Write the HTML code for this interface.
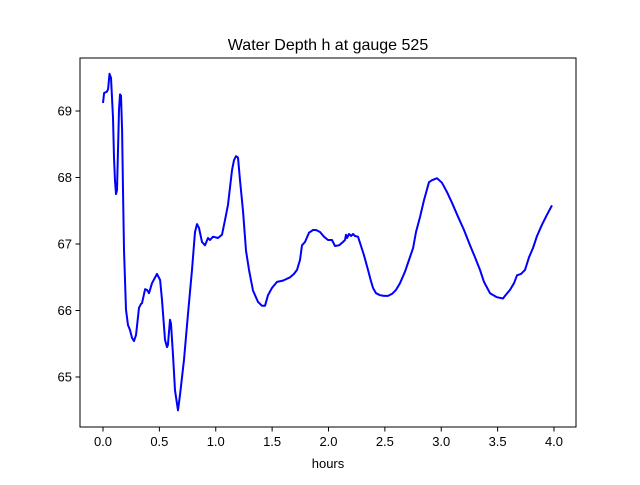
<!DOCTYPE html>
<html><head><meta charset="utf-8"><style>
body{margin:0;background:#fff;}
text{font-family:"Liberation Sans","DejaVu Sans",sans-serif;}
</style></head><body>
<svg id="chart" width="640" height="480" xmlns="http://www.w3.org/2000/svg">
<rect width="640" height="480" fill="#fff"/>
<text x="328" y="50" font-size="16" text-anchor="middle">Water Depth h at gauge 525</text>
<text x="328" y="468" font-size="13" text-anchor="middle">hours</text>
<g id="ticks"></g>
<path id="series" fill="none" stroke="#0000ff" stroke-width="2" stroke-linejoin="round"/>
<rect x="80" y="58" width="496" height="369" fill="none" stroke="#000" stroke-width="1"/>
</svg>
<script>
const hours=[0,0.0,0.01,0.035,0.045,0.058,0.071,0.089,0.098,0.106,0.115,0.124,0.133,0.142,0.151,0.160,0.169,0.177,0.186,0.204,0.222,0.239,0.257,0.275,0.293,0.319,0.337,0.346,0.373,0.390,0.408,0.435,0.479,0.506,0.523,0.550,0.568,0.576,0.594,0.603,0.621,0.639,0.665,0.683,0.718,0.754,0.789,0.816,0.834,0.851,0.878,0.905,0.931,0.949,0.976,1.020,1.055,1.082,1.109,1.126,1.144,1.162,1.180,1.197,1.215,1.242,1.268,1.295,1.330,1.375,1.410,1.437,1.463,1.499,1.543,1.596,1.659,1.694,1.721,1.747,1.765,1.792,1.827,1.863,1.889,1.925,1.960,1.996,2.031,2.058,2.093,2.129,2.146,2.155,2.164,2.182,2.200,2.217,2.235,2.262,2.288,2.315,2.350,2.377,2.395,2.421,2.457,2.492,2.528,2.563,2.599,2.634,2.678,2.714,2.750,2.776,2.812,2.847,2.891,2.918,2.962,3.007,3.051,3.095,3.149,3.202,3.255,3.299,3.344,3.379,3.432,3.494,3.548,3.565,3.610,3.645,3.672,3.707,3.743,3.778,3.814,3.849,3.894,3.938,3.982,4.0];
const depth=[69.12,69.12,69.27,69.29,69.33,69.56,69.50,68.90,68.30,67.95,67.75,67.81,68.41,69.02,69.25,69.23,68.71,67.81,66.91,66.01,65.78,65.71,65.59,65.54,65.63,66.04,66.10,66.11,66.32,66.31,66.26,66.41,66.55,66.46,66.16,65.56,65.45,65.48,65.86,65.80,65.33,64.80,64.50,64.73,65.26,65.95,66.61,67.18,67.30,67.24,67.03,66.98,67.09,67.06,67.11,67.09,67.14,67.36,67.59,67.85,68.11,68.26,68.32,68.30,67.96,67.50,66.90,66.61,66.30,66.13,66.07,66.07,66.23,66.34,66.43,66.45,66.50,66.55,66.61,66.76,66.98,67.03,67.17,67.21,67.21,67.18,67.11,67.06,67.06,66.97,66.98,67.03,67.06,67.14,67.09,67.15,67.12,67.15,67.12,67.11,66.97,66.83,66.61,66.44,66.34,66.26,66.23,66.22,66.22,66.25,66.31,66.41,66.58,66.76,66.94,67.18,67.41,67.66,67.93,67.96,67.99,67.92,67.78,67.62,67.41,67.21,66.98,66.80,66.61,66.43,66.26,66.20,66.18,66.22,66.31,66.41,66.53,66.55,66.61,66.80,66.94,67.12,67.29,67.44,67.58];
const xTicks=[0,0.5,1,1.5,2,2.5,3,3.5,4];
const xTickLabels=["0.0","0.5","1.0","1.5","2.0","2.5","3.0","3.5","4.0"];
const yTicks=[65,66,67,68,69];
const yTickLabels=["65","66","67","68","69"];
const NS="http://www.w3.org/2000/svg";
function X(v){return 103+v*112.75;}
function Y(v){return 111-(v-69)*66.5;}
const g=document.getElementById('ticks');
xTicks.forEach((t,i)=>{
 const l=document.createElementNS(NS,'line');
 l.setAttribute('x1',X(t));l.setAttribute('x2',X(t));l.setAttribute('y1',427);l.setAttribute('y2',431.5);l.setAttribute('stroke','#000');
 
 
 g.appendChild(l);
 const tx=document.createElementNS(NS,'text');
 tx.setAttribute('x',X(t));tx.setAttribute('y',446);tx.setAttribute('font-size','13');tx.setAttribute('text-anchor','middle');
 tx.textContent=xTickLabels[i];
 
 
 g.appendChild(tx);
});
yTicks.forEach((t,i)=>{
 const l=document.createElementNS(NS,'line');
 l.setAttribute('x1',75.5);l.setAttribute('x2',80);l.setAttribute('y1',Y(t));l.setAttribute('y2',Y(t));l.setAttribute('stroke','#000');
 
 
 g.appendChild(l);
 const tx=document.createElementNS(NS,'text');
 tx.setAttribute('x',72);tx.setAttribute('y',Y(t)+4.5);tx.setAttribute('font-size','13');tx.setAttribute('text-anchor','end');
 tx.textContent=yTickLabels[i];
 
 
 g.appendChild(tx);
});
let d='';
hours.forEach((h,i)=>{d+=(i?'L':'M')+X(h).toFixed(1)+','+Y(depth[i]).toFixed(1);});
document.getElementById('series').setAttribute('d',d);
</script>
</body></html>
